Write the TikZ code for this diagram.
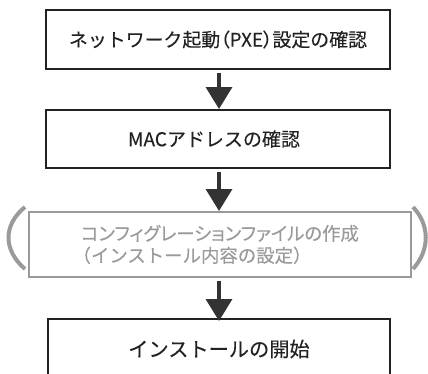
\documentclass[tikz,border=0pt]{standalone}
\usepackage{fontspec}
\setmainfont{Noto Sans CJK JP}[FakeBold=0.2]
\usetikzlibrary{arrows.meta}
\definecolor{inkc}{HTML}{222222}
\definecolor{arrc}{HTML}{333333}
\definecolor{greyc}{HTML}{9A9A9A}
\newcommand{\pp}[1]{{\addfontfeature{RawFeature=+palt}#1}}
\tikzset{
  stepbox/.style={draw=inkc, line width=2pt, rectangle, minimum width=344pt, text=inkc, inner sep=0pt},
  optbox/.style={draw=greyc, line width=2pt, rectangle, minimum width=382pt, minimum height=65pt, text=greyc, font=\fontsize{18.4}{22}\selectfont, align=left, inner xsep=0pt, inner ysep=0pt},
  flowarrow/.style={draw=arrc, line width=3.5pt, -{Triangle[width=26pt,length=22pt]}, shorten <=3pt},
  paren/.style={draw=greyc, line width=4pt}
}
\begin{document}
\begin{tikzpicture}[x=1pt,y=-1pt]
\clip (0,0) rectangle (428,373);
\useasboundingbox (0,0) rectangle (428,373);
\node[stepbox, minimum height=59pt, font=\fontsize{18.9}{22}\selectfont] (b1) at (218,39.5) {ネットワーク起動\pp{（}PXE\pp{）}設定の確認};
\node[stepbox, minimum height=58pt, font=\fontsize{19}{22}\selectfont] (b2) at (218,139) {MACアドレスの確認\hspace*{8pt}};
\node[optbox] (b3) at (220,244.5) {\pp{コンフィグレーションファイルの作成}\\\hspace*{-8.5pt}（インストール内容の設定）};
\node[stepbox, minimum width=342pt, minimum height=60pt, font=\fontsize{20.2}{22}\selectfont] (b4) at (219,349) {インストールの開始};
\draw[flowarrow] (b1.south -| 219,0) -- (b2.north -| 219,0);
\draw[flowarrow] (b2.south -| 219,0) -- (b3.north -| 219,0);
\draw[flowarrow] (b3.south -| 219,0) -- ([yshift=-3pt]b4.north -| 219,0);
\draw[paren] (25,207) .. controls (3,225) and (3,250) .. (25,269);
\draw[paren] (413,207) .. controls (430,225) and (430,250) .. (413,269);
\end{tikzpicture}
\end{document}
